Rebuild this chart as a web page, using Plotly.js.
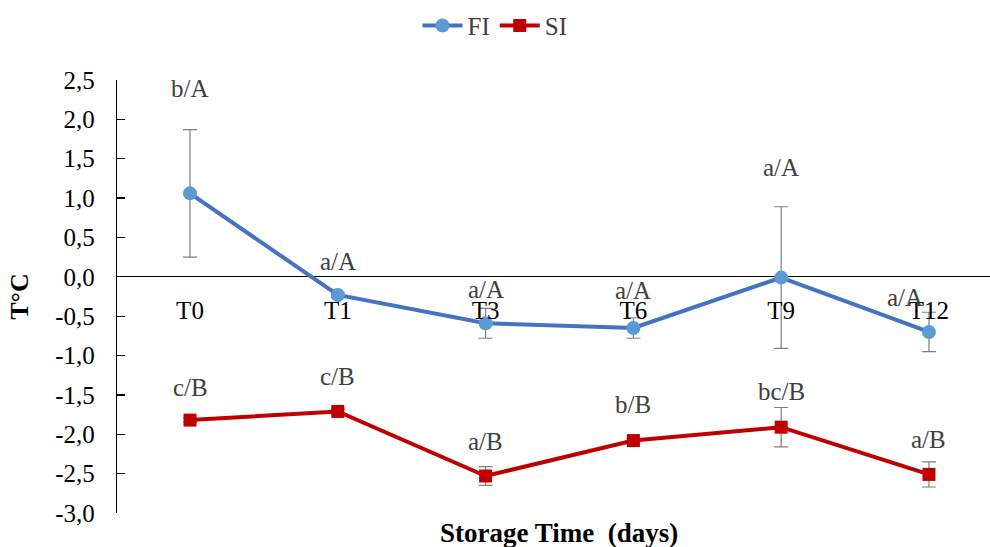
<!DOCTYPE html>
<html>
<head>
<meta charset="utf-8">
<script src="https://cdn.plot.ly/plotly-3.0.1.min.js"></script>
<style>html,body{margin:0;padding:0;background:#fff;}#chart{width:990px;height:547px;}</style>
</head>
<body>
<div id="chart"></div>
<script>
// Data
const categories = ["T0", "T1", "T3", "T6", "T9", "T12"];
const fiValues = [1.06, -0.23, -0.59, -0.65, -0.01, -0.70];
const fiErrors = [0.81, 0.03, 0.19, 0.13, 0.90, 0.25];
const siValues = [-1.82, -1.71, -2.53, -2.08, -1.91, -2.51];
const siErrors = [0.03, 0.03, 0.12, 0.03, 0.25, 0.16];
const fiLabels = ["b/A", "a/A", "a/A", "a/A", "a/A", "a/A"];
const siLabels = ["c/B", "c/B", "a/B", "b/B", "bc/B", "a/B"];
const yTickVals = [-3, -2.5, -2, -1.5, -1, -0.5, 0, 0.5, 1, 1.5, 2, 2.5];

const serif = "Liberation Serif";
const yMin = -3, yMax = 2.5;
const yTickText = yTickVals.map(v => v.toFixed(1).replace(".", ","));

const fiTrace = {
  x: categories, y: fiValues, name: "FI", type: "scatter", mode: "lines+markers",
  line: {color: "#4472C4", width: 4},
  marker: {symbol: "circle", size: 14, color: "#5B9BD5"},
  error_y: {type: "data", array: fiErrors, visible: true, color: "#7F7F7F", thickness: 1.2, width: 7}
};
const siTrace = {
  x: categories, y: siValues, name: "SI", type: "scatter", mode: "lines+markers",
  line: {color: "#C00000", width: 4},
  marker: {symbol: "square", size: 13, color: "#C00000"},
  error_y: {type: "data", array: siErrors, visible: true, color: "#7F7F7F", thickness: 1.2, width: 7}
};

// label pixel shifts (placement above points)
const fiShift = [105, 33, 34, 37, 110, 34];
const fiXShift = [0, 0, 0, 0, 0, -24];
const siShift = [33, 35, 35, 36, 36, 35];

const labelFont = {family: serif, size: 25, color: "#404040"};
const annotations = [];
categories.forEach((c, i) => {
  annotations.push({x: c, y: fiValues[i], xref: "x", yref: "y", text: fiLabels[i], showarrow: false,
    yshift: fiShift[i], xshift: fiXShift[i], font: labelFont});
  annotations.push({x: c, y: siValues[i], xref: "x", yref: "y", text: siLabels[i], showarrow: false,
    yshift: siShift[i], font: labelFont});
});
annotations.push({x: 0.5, y: 0, xref: "paper", yref: "paper", yanchor: "middle", yshift: -20, xshift: 5,
  text: "<b>Storage Time  (days)</b>", showarrow: false, font: {family: serif, size: 27, color: "#000"}});

const layout = {
  width: 990, height: 547,
  margin: {l: 117, r: 0, t: 80, b: 34},
  paper_bgcolor: "#fff", plot_bgcolor: "#fff",
  showlegend: true,
  legend: {orientation: "h", x: 0.5, xanchor: "center", xref: "container", y: 0.995, yref: "container", yanchor: "top",
    font: {family: serif, size: 25, color: "#404040"}, itemwidth: 40},
  xaxis: {
    type: "category", range: [-0.494, 5.413], anchor: "free", position: (0 - yMin) / (yMax - yMin),
    showline: false, showgrid: false, zeroline: false, ticks: "", ticklabelstandoff: 16,
    tickfont: {family: serif, size: 25, color: "#000"}
  },
  yaxis: {
    range: [yMin, yMax], tickmode: "array", tickvals: yTickVals, ticktext: yTickText, showgrid: false,
    zeroline: true, zerolinecolor: "#000", zerolinewidth: 1,
    showline: true, linecolor: "#000", linewidth: 1.2, ticks: "inside", ticklen: 8, tickcolor: "#000", tickwidth: 1.2,
    ticklabelstandoff: 16,
    tickfont: {family: serif, size: 25, color: "#000"},
    title: {text: "<b>T°C</b>", font: {family: serif, size: 26, color: "#000"}, standoff: 19}
  },
  annotations: annotations
};

Plotly.newPlot("chart", [fiTrace, siTrace], layout, {displayModeBar: false, staticPlot: true});
</script>
</body>
</html>
